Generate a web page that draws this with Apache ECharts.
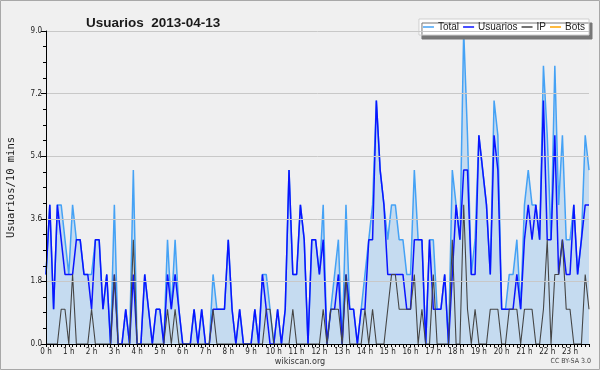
<!DOCTYPE html>
<html><head><meta charset="utf-8">
<script src="https://cdn.jsdelivr.net/npm/echarts@6/dist/echarts.min.js"></script>
<style>html,body{margin:0;padding:0;background:#f0f0f0}#c{width:600px;height:370px}</style>
</head><body><div id="c"></div>
<script>
const hourLabels = ['0 h','1 h','2 h','3 h','4 h','5 h','6 h','7 h','8 h','9 h','10 h','11 h','12 h','13 h','14 h','15 h','16 h','17 h','18 h','19 h','20 h','21 h','22 h','23 h'];
const yTicks = [0, 1.8, 3.6, 5.4, 7.2, 9.0];
const total = [
 2,4,1,4,4,3,2,4,3,3, 2,2,2,3,3,1,2,0,4,0, 0,1,0,5,0,0,2,1,0,1, 1,0,3,1,3,1,0,0,0,1,
 0,1,0,0,2,1,1,1,3,1, 0,1,0,0,0,1,0,2,2,1, 0,1,0,1,5,2,2,4,3,0, 3,3,2,4,0,1,2,3,0,4,
 1,1,0,1,2,3,4,7,5,4, 3,4,4,3,3,2,2,5,3,3, 0,3,3,1,1,2,0,5,4,3, 9,6,2,3,6,5,4,2,7,6,
 1,1,2,2,3,1,4,5,4,4, 3,8,6,3,8,4,6,3,3,4, 2,3,6,5];
const usuarios = [
 2,4,1,4,3,2,2,2,3,3, 2,2,1,3,3,1,2,0,2,0, 0,1,0,2,0,0,2,1,0,1, 1,0,2,1,2,1,0,0,0,1,
 0,1,0,0,1,1,1,1,3,1, 0,1,0,0,0,1,0,2,1,0, 0,1,0,1,5,2,2,4,3,0, 3,3,2,3,0,1,1,2,0,2,
 1,1,0,1,1,3,3,7,5,4, 2,2,2,2,2,1,1,3,3,3, 0,3,1,1,1,2,0,2,4,3, 5,5,2,2,6,5,4,2,6,5,
 1,1,1,1,2,1,3,4,3,4, 3,7,3,3,6,2,3,2,2,4, 2,3,4,4];
const ip = [
 0,0,0,0,1,1,0,2,0,0, 0,0,1,0,0,0,0,0,2,0, 0,0,0,3,0,0,0,0,0,0, 0,0,1,0,1,0,0,0,0,0,
 0,0,0,0,1,0,0,0,0,0, 0,0,0,0,0,0,0,0,1,1, 0,0,0,0,0,1,0,0,0,0, 0,0,0,1,0,1,1,1,0,2,
 0,0,0,0,1,0,1,0,0,0, 1,2,2,1,1,1,1,2,0,1, 0,0,2,0,0,0,0,3,0,0, 4,1,0,1,0,0,0,1,1,1,
 0,0,1,1,1,0,1,1,1,0, 0,1,3,0,2,2,3,1,1,0, 0,0,2,1];
const bots = [
 0,0,0,0,0,0,0,0,0,0, 0,0,0,0,0,0,0,0,0,0, 0,0,0,0,0,0,0,0,0,0, 0,0,0,0,0,0,0,0,0,0,
 0,0,0,0,0,0,0,0,0,0, 0,0,0,0,0,0,0,0,0,0, 0,0,0,0,0,0,0,0,0,0, 0,0,0,0,0,0,0,0,0,0,
 0,0,0,0,0,0,0,0,0,0, 0,0,0,0,0,0,0,0,0,0, 0,0,0,0,0,0,0,0,0,0, 0,0,0,0,0,0,0,0,0,0,
 0,0,0,0,0,0,0,0,0,0, 0,0,0,0,0,0,0,0,0,0, 0,0,0,0];

const pairs = arr => arr.map((v, i) => [i, v]);
const narrow = "'Liberation Sans',Arial,sans-serif";
const cond = "'DejaVu Sans Condensed','DejaVu Sans',sans-serif";

const chart = echarts.init(document.getElementById('c'), null, {renderer: 'canvas'});
chart.setOption({
  animation: false,
  backgroundColor: '#f0f0f0',
  title: {
    text: 'Usuarios  2013-04-13', left: 81, top: 11,
    textStyle: {fontFamily: narrow, fontWeight: 'bold', fontSize: 13.5, color: '#1a1a1a'}
  },
  legend: {
    data: ['Total', 'Usuarios', 'IP', 'Bots'],
    right: 11, top: 19, padding: [3, 4, 3, 4], itemGap: 4,
    itemWidth: 11, itemHeight: 1.5, icon: 'rect',
    backgroundColor: '#ffffff', borderColor: '#cfcfcf', borderWidth: 1,
    shadowColor: '#777777', shadowBlur: 0, shadowOffsetX: 3, shadowOffsetY: 4,
    textStyle: {fontFamily: narrow, fontSize: 10, color: '#222', padding: [0, 0, 0, -1]}
  },
  grid: {left: 46, right: 11, top: 31, bottom: 26, show: true, backgroundColor: '#efeff0',
         borderWidth: 0, containLabel: false, outerBoundsMode: 'none'},
  xAxis: {
    type: 'value', min: 0, max: 143, interval: 6, z: 5,
    axisLine: {show: true, lineStyle: {color: '#000', width: 1}},
    axisTick: {show: true, length: 3, lineStyle: {color: '#000'}},
    minorTick: {show: true, splitNumber: 6, length: 3, lineStyle: {color: '#000'}},
    splitLine: {show: false},
    axisLabel: {
      margin: 4, fontSize: 8, color: '#222', fontFamily: cond,
      formatter: v => (v % 6 === 0 && hourLabels[v / 6] !== undefined) ? hourLabels[v / 6] : ''
    }
  },
  yAxis: {
    type: 'value', min: 0, max: 9, interval: 1.8, z: 5,
    name: 'Usuarios/10 mins', nameLocation: 'middle', nameGap: 29, nameRotate: 90,
    nameTextStyle: {fontFamily: "'DejaVu Sans Mono',monospace", fontSize: 10.5, color: '#1a1a1a'},
    axisLine: {show: true, lineStyle: {color: '#000', width: 1}},
    axisTick: {show: true, length: 5, lineStyle: {color: '#000'}},
    minorTick: {show: true, splitNumber: 4, length: 3, lineStyle: {color: '#000'}},
    splitLine: {show: true, lineStyle: {color: '#c8c8c8', width: 1}},
    axisLabel: {
      margin: 4, fontSize: 8, color: '#222', fontFamily: cond,
      formatter: v => {
        const t = yTicks.find(x => Math.abs(x - v) < 1e-6);
        return t === undefined ? '' : t.toFixed(1);
      }
    }
  },
  series: [
    {name: 'Bots', type: 'line', data: pairs(bots), symbol: 'none', z: 1,
     lineStyle: {color: '#ffa500', width: 1}, itemStyle: {color: '#ffa500'}},
    {name: 'Total', type: 'line', data: pairs(total), symbol: 'none', z: 2,
     lineStyle: {color: '#45a2f5', width: 1.5}, itemStyle: {color: '#45a2f5'},
     areaStyle: {color: '#c5dbf0', opacity: 1}},
    {name: 'Usuarios', type: 'line', data: pairs(usuarios), symbol: 'none', z: 3,
     lineStyle: {color: '#0a14ff', width: 1.5}, itemStyle: {color: '#0a14ff'}},
    {name: 'IP', type: 'line', data: pairs(ip), symbol: 'none', z: 4,
     lineStyle: {color: '#454545', width: 1.1}, itemStyle: {color: '#454545'}}
  ],
  graphic: [
    {type: 'rect', z: 100, shape: {x: 0.5, y: 0.5, width: 599, height: 369},
     style: {fill: 'none', stroke: '#a8a8a8', lineWidth: 1}},
    {type: 'text', left: 'center', top: 357,
     style: {text: 'wikiscan.org', fontSize: 9, fontFamily: cond, fill: '#333'}},
    {type: 'text', right: 9, top: 358,
     style: {text: 'CC BY-SA 3.0', fontSize: 7, fontFamily: cond, fill: '#444'}}
  ]
});
</script></body></html>
